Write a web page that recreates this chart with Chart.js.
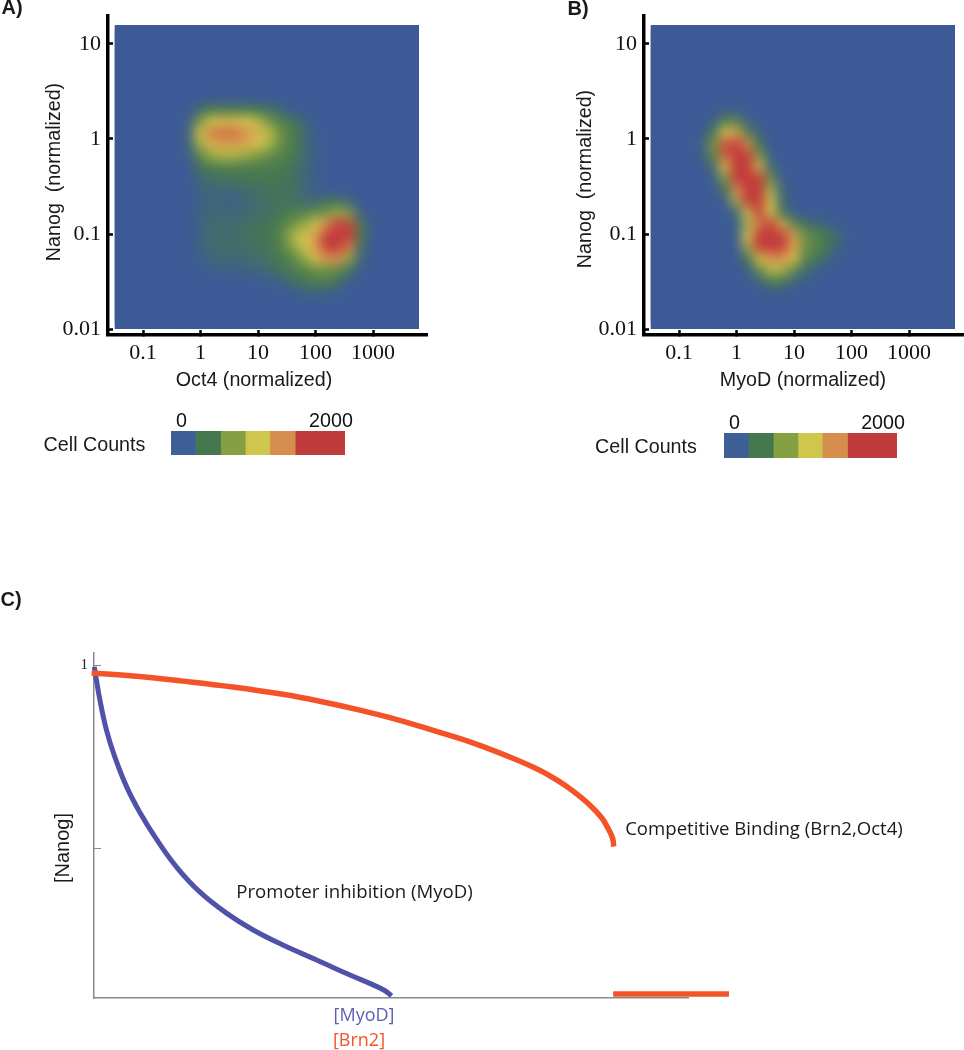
<!DOCTYPE html>
<html><head><meta charset="utf-8">
<script src="https://cdn.jsdelivr.net/npm/chart.js@4"></script>
<style>html,body{margin:0;padding:0;background:#fff;width:964px;height:1050px;overflow:hidden}
canvas{position:absolute;display:block}</style></head><body>
<canvas id="panelA" style="left:0;top:0"></canvas>
<canvas id="panelB" style="left:536px;top:0"></canvas>
<canvas id="barA" style="left:150px;top:400px"></canvas>
<canvas id="barB" style="left:703px;top:402px"></canvas>
<canvas id="panelC" style="left:0;top:580px"></canvas>
<script>
// Heatmap windows: cell counts in hundreds, rows top to bottom, columns left to right
const oct4Counts = [
[0,0,0,0,0,0,0,0,0,0,0,0,0,0,0,0,0,0],
[0,0,0,1.5,3,3,3,3,2.5,2,1,0,0,0,0,0,0,0],
[0,0,.5,6,10,11.5,11.5,10.5,9,5.5,3.5,2.5,1,0,0,0,0,0],
[0,0,1,10,15,15.5,15.5,14,12,9,5,3,1.5,.3,0,0,0,0],
[0,0,.8,8,12,13,13,12.5,11,8.5,4.5,3,1.5,.3,0,0,0,0],
[0,0,.3,4,7.5,8.5,8.5,7.5,6,4.5,3.5,2.8,1.5,.4,0,0,0,0],
[0,0,0,2.2,3,3.2,3.2,3,3,2.8,2.6,2.2,1.2,.3,0,0,0,0],
[0,0,0,1,1.8,2,2.2,2.4,2.4,2.5,2.3,2,1.1,.4,0,0,0,0],
[0,0,0,.7,1.1,1,1,1.4,1.8,2.1,2.2,2,1.1,.4,0,0,0,0],
[0,0,0,.6,1,.7,.7,1,1.4,1.8,2,1.9,1.4,1.2,2,2,1,0],
[0,0,0,.7,1.2,1,1,1.2,1.5,1.9,2.3,3,3.5,4.5,5.5,7.5,6,.5],
[0,0,0,.7,1.4,1.3,1.4,1.7,2,2.2,3,5,7,10,14,20,17,2.5],
[0,0,0,.7,1.4,1.4,1.5,1.9,2.2,2.4,3.5,8,11,13,24,32,21,3],
[0,0,0,.7,1.4,1.4,1.4,1.7,2,2.3,3.2,6.5,10,13,24,30,15,2],
[0,0,0,.4,1,1.3,1.3,1.3,1.6,2,2.8,3.5,7,11,14,14,7,.8],
[0,0,0,.1,.3,.5,.6,.7,1,1.4,2,3,3.5,5,5.5,4.5,2.2,.2],
[0,0,0,0,0,0,0,0,.2,.4,.8,1.5,2.5,3,3,2,.5,0],
[0,0,0,0,0,0,0,0,0,0,0,.2,.6,.8,.6,.3,0,0]];
const myodCounts = [
[0,0,0,0,0,0,0,0,0,0,0,0,0,0,0,0,0,0],
[0,0,.3,.3,0,0,0,0,0,0,0,0,0,0,0,0,0,0],
[0,.5,3.5,4,.8,0,0,0,0,0,0,0,0,0,0,0,0,0],
[0,2.5,11,13,3.5,.8,0,0,0,0,0,0,0,0,0,0,0,0],
[.5,5.5,17,30,14,2.5,0,0,0,0,0,0,0,0,0,0,0,0],
[.3,4,16,30,24,6,.3,0,0,0,0,0,0,0,0,0,0,0],
[0,1.5,11.5,27,28,12,1.8,0,0,0,0,0,0,0,0,0,0,0],
[0,.3,6,21,32,20,5,.3,0,0,0,0,0,0,0,0,0,0],
[0,0,2.2,14,30,26,8,1,0,0,0,0,0,0,0,0,0,0],
[0,0,.3,8,24,26,10,1.5,0,0,0,0,0,0,0,0,0,0],
[0,0,0,1,10,19,11,2.5,.4,0,0,0,0,0,0,0,0,0],
[0,0,0,.6,8,15,19,12,4,2,1.2,.5,0,0,0,0,0,0],
[0,0,0,.4,11,20,34,27,13,5,3.5,2.5,1,0,0,0,0,0],
[0,0,0,0,8,20,34,27,13,5,3.5,2.2,.6,0,0,0,0,0],
[0,0,0,0,2.5,11,14,14,11,4,2.5,.8,0,0,0,0,0,0],
[0,0,0,0,.5,4.5,9,8.5,4.5,1.5,.6,0,0,0,0,0,0,0],
[0,0,0,0,0,1,3,3,1,.3,0,0,0,0,0,0,0,0],
[0,0,0,0,0,0,.2,.1,0,0,0,0,0,0,0,0,0,0]];
const xTicks = [0.1, 1, 10, 100, 1000];
const yTicks = [0.01, 0.1, 1, 10];
const countEdges = [-141, 188, 523, 854, 1181, 1521, 2188];
const binColors = ['#3f5f97', '#46784f', '#85a042', '#cfc64e', '#d68e4e', '#c03c3c'];
const countTicks = [0, 2000];
const brn2Dose = [-0.4,6.6,15,23.4,31.8,38,44.4,51,57.4,64,70.4,75.1,77.9,80.6,83.5,85.5,86.5,87.3,87.5];
const brn2Nanog = [.978,.970,.956,.940,.920,.901,.878,.851,.820,.786,.746,.712,.686,.656,.617,.582,.555,.527,.504];
const brn2TailDose = [87.4, 106.9];
const brn2TailNanog = [.101, .101];
const myodDose = [.05,1,2.1,3.5,5.5,7.7,10.6,13.9,17.8,22.3,26.8,31.8,37.5,43.1,47,49,50.1];
const myodNanog = [.995,.904,.822,.749,.667,.598,.522,.448,.380,.322,.276,.235,.194,.153,.126,.110,.096];
const nanogTicks = [0.5, 1];

const SANS = '"Liberation Sans"', SERIF = '"Liberation Serif"', MYR = '"Open Sans"';
const colorStops = [[0,[61,90,150]],[250,[70,120,79]],[650,[133,160,66]],[1050,[214,202,78]],[1400,[216,144,78]],[1800,[195,60,60]]];
function countColor(v){
  if(v<=0) return 'rgb(61,90,150)';
  for(let i=1;i<colorStops.length;i++){
    if(v<=colorStops[i][0]){
      const [a,ca]=colorStops[i-1],[b,cb]=colorStops[i],t=(v-a)/(b-a);
      return 'rgb('+ca.map((c,k)=>Math.round(c+(cb[k]-c)*t)).join(',')+')';
    }
  }
  return 'rgb(195,60,60)';
}
// cell centres in decades; 27 x 27 cells; window starts at column 4, row 6
function cells(rows){
  const out=[];
  for(let r=0;r<27;r++)for(let c=0;c<27;c++){
    const row=rows[r-6];
    const h=row&&row[c-4]!==undefined?row[c-4]:0;
    out.push({x:Math.pow(10,-1.5+0.2*(c+.5)),y:Math.pow(10,1.2-0.12*(r+.5)),v:h*100});
  }
  return out;
}
function noMargins(s){s.paddingTop=s.paddingBottom=s.paddingLeft=s.paddingRight=0;}
const textPlugin={id:'texts',afterDraw(chart,args,opts){
  const ctx=chart.ctx;
  (opts.items||[]).forEach(t=>{
    ctx.save();ctx.translate(t.x,t.y);if(t.rot)ctx.rotate(t.rot);
    ctx.font=t.font;ctx.fillStyle=t.color||'#1a1a1a';ctx.textAlign='center';ctx.textBaseline='middle';
    ctx.fillText(t.text,0,0);ctx.restore();
  });
}};
const softenPlugin={id:'soften',afterDatasetsDraw(chart){
  const sx=chart.scales.x,sy=chart.scales.y;
  const l=Math.round(sx.getPixelForValue(Math.pow(10,-1.5))),r=Math.round(sx.getPixelForValue(Math.pow(10,3.8)));
  const t=Math.round(sy.getPixelForValue(Math.pow(10,1.2))),b=Math.round(sy.getPixelForValue(0.01));
  const w=r-l,h=b-t,tmp=document.createElement('canvas');tmp.width=w;tmp.height=h;
  tmp.getContext('2d').drawImage(chart.canvas,l,t,w,h,0,0,w,h);
  const ctx=chart.ctx;ctx.save();ctx.beginPath();ctx.rect(l,t,w,h);ctx.clip();
  ctx.filter='blur(6px)';ctx.drawImage(tmp,l,t);ctx.restore();
}};
function logAxis(ticks,pad,extra){
  return Object.assign({type:'logarithmic',bounds:'data',
    afterBuildTicks(s){s.ticks=ticks.map(v=>({value:v}));},
    ticks:{autoSkip:false,maxRotation:0,minRotation:0,padding:pad,color:'#111',font:{family:SERIF,size:22},callback:v=>String(v)},
    grid:{drawOnChartArea:false,tickLength:-5,tickWidth:2.5,tickColor:'#000'},
    border:{display:true,color:'#000',width:3.5}},extra);
}
function heat(id,rows,texts){
  const w=480;
  const cv=document.getElementById(id);cv.width=w;cv.height=480;
  new Chart(cv,{type:'scatter',data:{datasets:[{label:'Cell counts',data:cells(rows),pointStyle:'rect',pointRadius:8.9,pointHoverRadius:8.9,pointBorderWidth:0,
      backgroundColor:c=>countColor(c.raw?c.raw.v:0),clip:{left:-7,right:-8,top:-9,bottom:-6}}]},
    plugins:[softenPlugin,textPlugin],
    options:{responsive:false,animation:false,events:[],
      layout:{padding:{left:0,top:16,right:w-427,bottom:0}},
      plugins:{legend:{display:false},tooltip:{enabled:false},texts:{items:texts}},
      scales:{x:logAxis(xTicks,10,{min:0.0246,max:8690,afterFit(s){s.height=145;noMargins(s);}}),
              y:logAxis(yTicks,12,{min:0.00865,max:19.7,afterFit(s){s.width=108;noMargins(s);}})}}});
}
const sansAxis='19.7px '+SANS, bold='bold 20px '+SANS;
heat('panelA',oct4Counts,[
  {text:'A)',x:12,y:8,font:bold},
  {text:'Oct4 (normalized)',x:254,y:381,font:sansAxis},
  {text:'Nanog  (normalized)',x:55,y:172,rot:-Math.PI/2,font:sansAxis},
  {text:'Cell Counts',x:94.5,y:446,font:sansAxis}]);
heat('panelB',myodCounts,[
  {text:'B)',x:42,y:9,font:bold},
  {text:'MyoD (normalized)',x:267,y:381,font:sansAxis},
  {text:'Nanog  (normalized)',x:50,y:179,rot:-Math.PI/2,font:sansAxis},
  {text:'Cell Counts',x:110,y:448,font:sansAxis}]);
function bar(id,w,h,pl,pt,aw,ah){
  const cv=document.getElementById(id);cv.width=w;cv.height=h;
  new Chart(cv,{type:'bar',data:{labels:['Cell Counts'],datasets:binColors.map((c,i)=>({label:'bin '+i,data:[[countEdges[i],countEdges[i+1]]],backgroundColor:c,grouped:false,barPercentage:1,categoryPercentage:1,borderWidth:0}))},
    options:{indexAxis:'y',responsive:false,animation:false,events:[],
      layout:{padding:{left:pl,top:0,right:w-pl-aw,bottom:h-pt-ah}},
      plugins:{legend:{display:false},tooltip:{enabled:false}},
      scales:{y:{display:false},
        x:{type:'linear',position:'top',min:countEdges[0],max:countEdges[6],afterFit(s){s.height=pt;noMargins(s);},
          afterBuildTicks(s){s.ticks=countTicks.map(v=>({value:v}));},
          grid:{display:false},border:{display:false},
          ticks:{autoSkip:false,maxRotation:0,padding:-10,color:'#111',font:{family:SANS,size:19.7},callback:v=>String(v)}}}}});
}
bar('barA',230,70,21,31,174,24);
bar('barB',230,70,21,31,173,25);
// Panel C
(function(){
  const cv=document.getElementById('panelC');cv.width=964;cv.height=470;
  const pts=(xs,ys)=>xs.map((x,i)=>({x,y:ys[i]}));
  const line={showLine:true,fill:false,pointRadius:0,tension:0.4,clip:false,borderCapStyle:'butt'};
  new Chart(cv,{type:'scatter',data:{datasets:[
    Object.assign({label:'Competitive Binding (Brn2,Oct4)',data:pts(brn2Dose,brn2Nanog),borderColor:'#f4532a',backgroundColor:'#f4532a',borderWidth:5.5},line),
    Object.assign({label:'Competitive Binding tail',data:pts(brn2TailDose,brn2TailNanog),borderColor:'#f4532a',backgroundColor:'#f4532a',borderWidth:5.5},line),
    Object.assign({label:'Promoter inhibition (MyoD)',data:pts(myodDose,myodNanog),borderColor:'#4f52a8',backgroundColor:'#4f52a8',borderWidth:5},line)]},
    plugins:[textPlugin],
    options:{responsive:false,animation:false,events:[],
      layout:{padding:{left:0,top:73,right:964-688,bottom:0}},
      plugins:{legend:{display:false},tooltip:{enabled:false},texts:{items:[
        {text:'C)',x:11,y:20,font:bold},
        {text:'[Nanog]',x:63,y:268,rot:-Math.PI/2,font:'20px '+SANS},
        {text:'Promoter inhibition (MyoD)',x:354.5,y:313,font:'18.6px '+MYR},
        {text:'Competitive Binding (Brn2,Oct4)',x:764,y:250,font:'18.6px '+MYR},
        {text:'[MyoD]',x:364,y:436,font:'18px '+MYR,color:'#5b5fb5'},
        {text:'[Brn2]',x:359,y:461,font:'18px '+MYR,color:'#f4532a'}]}},
      scales:{
        x:{type:'linear',min:0,max:100,afterFit(s){s.height=52;noMargins(s);},grid:{display:false},border:{color:'#8a8a8a',width:1.5},ticks:{display:false}},
        y:{type:'linear',min:0.0902,max:1.0328,afterFit(s){s.width=94;noMargins(s);},
          afterBuildTicks(s){s.ticks=nanogTicks.map(v=>({value:v}));},
          grid:{drawOnChartArea:false,tickLength:-7,tickWidth:1,tickColor:'#8a8a8a'},
          border:{color:'#8a8a8a',width:1.5},
          ticks:{padding:13,color:'#222',font:{family:SERIF,size:15},callback:v=>v===1?'1':''}}}}});
})();
</script></body></html>
